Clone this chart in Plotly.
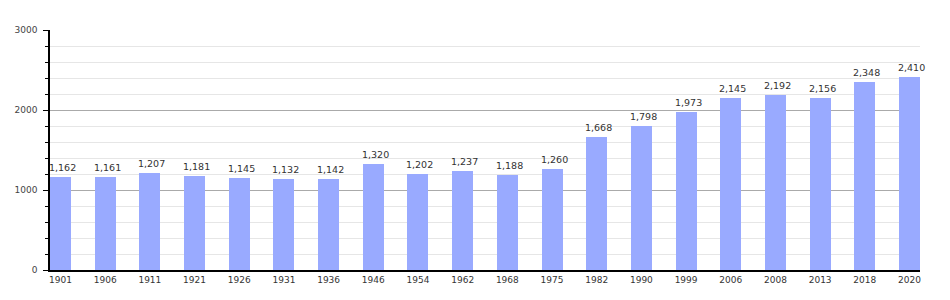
import plotly.graph_objects as go

years = ["1901", "1906", "1911", "1921", "1926", "1931", "1936", "1946", "1954", "1962",
         "1968", "1975", "1982", "1990", "1999", "2006", "2008", "2013", "2018", "2020"]
population = [1162, 1161, 1207, 1181, 1145, 1132, 1142, 1320, 1202, 1237,
              1188, 1260, 1668, 1798, 1973, 2145, 2192, 2156, 2348, 2410]
labels = [f"{v:,}" for v in population]

xs = list(range(len(years)))

fig = go.Figure()
fig.add_trace(go.Bar(
    x=xs, y=population,
    marker=dict(color="#99aaff", line=dict(width=0)),
    width=0.47,
    hoverinfo="skip",
))

for x, v, t in zip(xs, population, labels):
    fig.add_annotation(
        x=x, y=v, text=t, showarrow=False,
        xanchor="center", yanchor="bottom",
        xshift=2, yshift=2,
        font=dict(family="DejaVu Sans", size=9.5, color="#333333"),
    )

fig.update_layout(
    width=950, height=300,
    margin=dict(l=50, r=30, t=30, b=30),
    plot_bgcolor="white", paper_bgcolor="white",
    showlegend=False,
    font=dict(family="DejaVu Sans", size=9, color="#333333"),
    xaxis=dict(
        tickmode="array", tickvals=xs, ticktext=years,
        range=[-0.235, 19.235],
        showgrid=False, zeroline=False,
        showline=True, linecolor="black", linewidth=1.5,
        ticks="", ticklen=0,
        tickfont=dict(family="DejaVu Sans", size=9, color="#333333"),
    ),
    yaxis=dict(
        range=[0, 3000],
        tickmode="array", tickvals=[0, 1000, 2000, 3000],
        ticktext=["0", "1000", "2000", "3000"],
        showgrid=True, gridcolor="#aaaaaa", gridwidth=1,
        zeroline=False,
        showline=True, linecolor="black", linewidth=1.5,
        ticks="outside", ticklen=5, tickcolor="black", tickwidth=1,
        tickfont=dict(family="DejaVu Sans", size=9, color="#444444"),
        ticklabelstandoff=4,
        minor=dict(dtick=200, showgrid=True, gridcolor="#e6e6e6", gridwidth=1,
                   ticks="outside", ticklen=3, tickcolor="black"),
    ),
)
fig.update_layout(bargap=0)

fig.write_html("out.html")
